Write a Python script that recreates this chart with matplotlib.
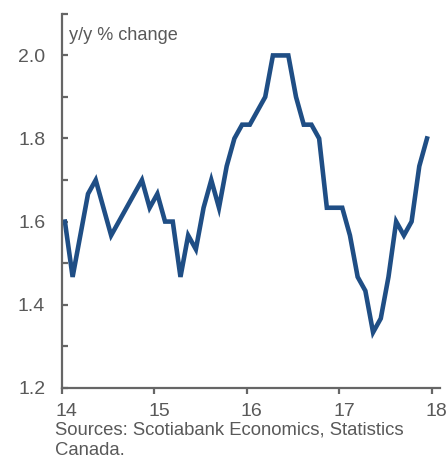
import matplotlib.pyplot as plt
import matplotlib.transforms as mtransforms
import numpy as np

plt.rcParams['font.family'] = ['Liberation Sans', 'DejaVu Sans']

# monthly y/y % change, Jan 2014 - Dec 2017
values = [1.6000, 1.4667, 1.5667, 1.6667, 1.7000, 1.6333, 1.5667, 1.6000, 1.6333, 1.6667, 1.7000, 1.6333,
          1.6667, 1.6000, 1.6000, 1.4667, 1.5667, 1.5333, 1.6333, 1.7000, 1.6333, 1.7333, 1.8000, 1.8333,
          1.8333, 1.8667, 1.9000, 2.0000, 2.0000, 2.0000, 1.9000, 1.8333, 1.8333, 1.8000, 1.6333, 1.6333,
          1.6333, 1.5667, 1.4667, 1.4333, 1.3333, 1.3667, 1.4667, 1.6000, 1.5667, 1.6000, 1.7333, 1.8000]
start_year = 14
x_ticks = [14, 15, 16, 17, 18]
y_ticks = [1.2, 1.4, 1.6, 1.8, 2.0]
y_minor = [1.3, 1.5, 1.7, 1.9, 2.1]

xs = start_year + (np.arange(len(values)) + 0.4) / 12

grey = '#666666'
txt = '#595959'

fig = plt.figure(figsize=(4.48, 4.63), dpi=100)
ax = fig.add_axes([0.138, 0.1626, 0.844, 0.8074])
ax.plot(xs, values, color='#1f4e85', linewidth=3.3, solid_joinstyle='miter')

ax.set_xlim(14, 18.09)
ax.set_ylim(1.2, 2.1)
ax.set_xticks(x_ticks)
ax.set_xticklabels([str(t) for t in x_ticks])
ax.set_yticks(y_ticks)
ax.set_yticklabels(['%.1f' % t for t in y_ticks])
ax.set_yticks(y_minor, minor=True)

for s in ['top', 'right']:
    ax.spines[s].set_visible(False)
for s in ['left', 'bottom']:
    ax.spines[s].set_color(grey)
    ax.spines[s].set_linewidth(1.6)

ax.tick_params(axis='y', which='both', direction='in', length=4, width=1.6, color=grey,
               labelsize=14, labelcolor=txt, pad=12)
ax.tick_params(axis='x', direction='out', length=4, width=1.6, color=grey,
               labelsize=14, labelcolor=txt, pad=7)
offset = mtransforms.ScaledTranslation(5 / 100, 0, fig.dpi_scale_trans)
for lab in ax.get_xticklabels():
    lab.set_transform(lab.get_transform() + offset)

ax.text(69 / 448, 1 - 35 / 463, 'y/y % change', transform=fig.transFigure,
        fontsize=13.1, color=txt, va='center', ha='left')
fig.text(55 / 448, 1 - 440 / 463, 'Sources: Scotiabank Economics, Statistics\nCanada.',
         fontsize=13.3, color=txt, va='center', ha='left', linespacing=1.25)

fig.savefig('out.png', dpi=100)
